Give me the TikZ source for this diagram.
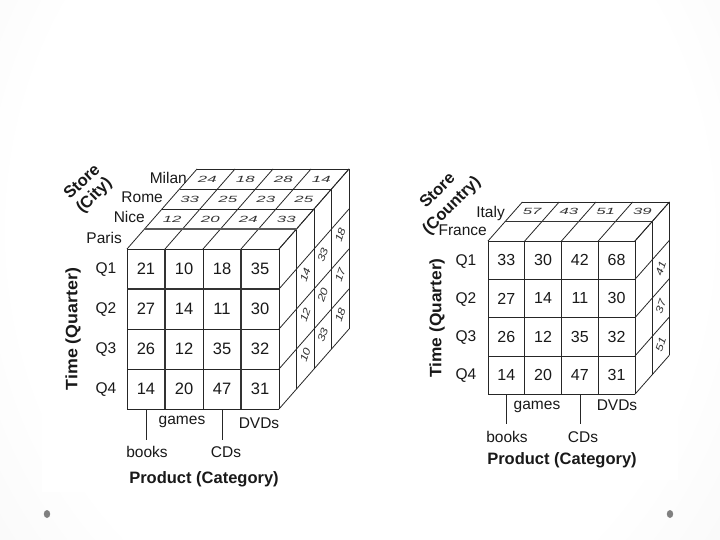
\documentclass[tikz,border=0pt]{standalone}
\usepackage{fontspec}
\setmainfont{Liberation Sans}
\pgfdeclareradialshading{bgshade}{\pgfpoint{0bp}{0bp}}{color(0bp)=(white); color(24bp)=(white); color(38bp)=(black!4); color(50bp)=(black!11); color(72bp)=(black!17)}
\newcommand\cubegrid[7]{%
 \foreach \k in {0,...,#7} \draw[gl] ({#1+\k*(#5)},{#2+\k*(#6)}) -- ({#1+4*(#3)+\k*(#5)},{#2+\k*(#6)});
 \foreach \i in {0,...,4} \draw[gl] ({#1+\i*(#3)},#2) -- ({#1+\i*(#3)+#7*(#5)},{#2+#7*(#6)});
 \foreach \k in {0,...,#7} \draw[gl] ({#1+4*(#3)+\k*(#5)},{#2+\k*(#6)}) -- ({#1+4*(#3)+\k*(#5)},{#2+4*(#4)+\k*(#6)});
 \foreach \r in {0,...,4} \draw[gl] ({#1+4*(#3)},{#2+\r*(#4)}) -- ({#1+4*(#3)+#7*(#5)},{#2+\r*(#4)+#7*(#6)});
 \foreach \i in {0,...,4} \draw[gl] ({#1+\i*(#3)},#2) -- ({#1+\i*(#3)},{#2+4*(#4)});
 \foreach \r in {0,...,4} \draw[gl] (#1,{#2+\r*(#4)}) -- ({#1+4*(#3)},{#2+\r*(#4)});
}
\begin{document}
\begin{tikzpicture}[x=1pt,y=-1pt,
  gl/.style={line width=0.8pt, draw=black!85},
  thk/.style={line width=1.8pt, draw=black!80},
  num/.style={font=\fontsize{16.5}{17}\selectfont, inner sep=0pt, text=black!90},
  rnum/.style={font=\fontsize{16}{17}\selectfont, inner sep=0pt, text=black!90},
  lab/.style={font=\fontsize{15.5}{16}\selectfont, inner sep=0pt, text=black!90},
  blab/.style={font=\bfseries\fontsize{16.5}{17}\selectfont, inner sep=0pt, text=black!90},
  topnum/.style={font=\itshape\fontsize{12}{12}\selectfont, xscale=1.4, yscale=0.75, inner sep=0pt, text=black!80},
  sidenum/.style={font=\itshape\fontsize{13}{13}\selectfont, rotate=72, yscale=0.78, inner sep=0pt, text=black!80},
  tick/.style={line width=0.8pt, draw=black!85},
  dot/.style={fill=black!50}
]
\useasboundingbox (0,0) rectangle (720,540);
\begin{scope}
\clip (0,0) rectangle (720,540);
\shade[shading=bgshade] (0,-190) rectangle (720,650);
\end{scope}
% panels
\fill[white] (42,128) rectangle (362,492);
\fill[white] (410,140) rectangle (678,480);
% ---------------- left cube ----------------
\cubegrid{127}{249}{38}{40}{17.5}{-20}{4}
\draw[thk] (165,249) -- (165,409);
\draw[thk] (241,249) -- (241,409);
\draw[thk] (127,289) -- (279,289);
\draw[thk, draw=black!65] (144.5,229) -- (296.5,229);
\foreach \row [count=\r from 0] in {{21,10,18,35},{27,14,11,30},{26,12,35,32},{14,20,47,31}}
  \foreach \v [count=\i from 0] in \row
    \node[num] (lf\r\i) at ({127+(\i+0.5)*38},{249+(\r+0.5)*40}) {\v};
\foreach \row [count=\k from 1] in {{12,20,24,33},{33,25,23,25},{24,18,28,14}}
  \foreach \v [count=\i from 0] in \row
    \node[topnum] (lt\k\i) at ({127+(\i+0.5)*38+(\k+0.5)*17.5},{249+(\k+0.5)*(-20)}) {\v};
\foreach \col [count=\k from 1] in {{14,12,10},{33,20,33},{18,17,18}}
  \foreach \v [count=\r from 1] in \col
    \node[sidenum] (ls\k\r) at ({279+(\k+0.5)*17.5},{249-4+(\r+0.5)*40+(\k+0.5)*(-20)}) {\v};
\node[lab, anchor=east] (milan) at (187,178) {Milan};
\node[lab, anchor=east] (rome) at (163,197) {Rome};
\node[lab, anchor=east] (nice) at (145,217) {Nice};
\node[lab, anchor=east] (paris) at (122,238) {Paris};
\node[blab, rotate=43] (store1) at (81.5,181) {Store};
\node[blab, rotate=45] (city) at (94.5,196) {(City)};
\node[blab, rotate=90, xscale=1.08] (time1) at (73,329) {Time (Quarter)};
\foreach \q [count=\r from 0] in {Q1,Q2,Q3,Q4}
  \node[lab] (lq\r) at (106,{249+(\r+0.5)*40+1}) {\q};
\coordinate (lb1) at (146,409); \coordinate (lb1e) at (146,440);
\coordinate (lb2) at (222,409); \coordinate (lb2e) at (222,440);
\draw[tick] (lb1) -- (lb1e);
\draw[tick] (lb2) -- (lb2e);
\node[lab] (lgames) at (182,422) {games};
\node[lab] (ldvds) at (259,423) {DVDs};
\node[lab] (lbooks) at (147,452) {books};
\node[lab] (lcds) at (226,452) {CDs};
\node[blab] (lprod) at (204,479) {Product (Category)};
% ---------------- right cube ----------------
\cubegrid{488}{241}{36.75}{38.3}{17.2}{-19.5}{2}
\draw[thk] (505.2,221.5) -- (652.2,221.5);
\foreach \row [count=\r from 0] in {{33,30,42,68},{27,14,11,30},{26,12,35,32},{14,20,47,31}}
  \foreach \v [count=\i from 0] in \row
    \node[rnum] (rf\r\i) at ({488+(\i+0.5)*36.75},{241+(\r+0.5)*38.3}) {\v};
\foreach \v [count=\i from 0] in {57,43,51,39}
  \node[topnum] (rt\i) at ({488+(\i+0.5)*36.75+1.5*17.2},{241+1.5*(-19.5)}) {\v};
\foreach \v [count=\r from 1] in {41,37,51}
  \node[sidenum] (rs\r) at ({635+1.5*17.2},{241-1+(\r+0.5)*38.3+1.5*(-19.5)}) {\v};
\node[lab, anchor=east] (italy) at (505,213) {Italy};
\node[lab, anchor=east] (france) at (487,230) {France};
\node[blab, rotate=45] (store2) at (437,190) {Store};
\node[blab, rotate=45] (country) at (452,206) {(Country)};
\node[blab, rotate=90, xscale=1.05] (time2) at (437,318) {Time (Quarter)};
\foreach \q [count=\r from 0] in {Q1,Q2,Q3,Q4}
  \node[lab] (rq\r) at (466,{241+(\r+0.5)*38.3+1}) {\q};
\coordinate (rb1) at (506,394.2); \coordinate (rb1e) at (506,424);
\coordinate (rb2) at (580.5,394.2); \coordinate (rb2e) at (580.5,424);
\draw[tick] (rb1) -- (rb1e);
\draw[tick] (rb2) -- (rb2e);
\node[lab] (rgames) at (537,407) {games};
\node[lab] (rdvds) at (617,405) {DVDs};
\node[lab] (rbooks) at (507,437) {books};
\node[lab] (rcds) at (583,437) {CDs};
\node[blab] (rprod) at (562,460) {Product (Category)};
% bottom dots
\fill[dot] (47,514) ellipse (3.2 and 4);
\fill[dot] (670,514) ellipse (3.2 and 4);
\end{tikzpicture}
\end{document}
